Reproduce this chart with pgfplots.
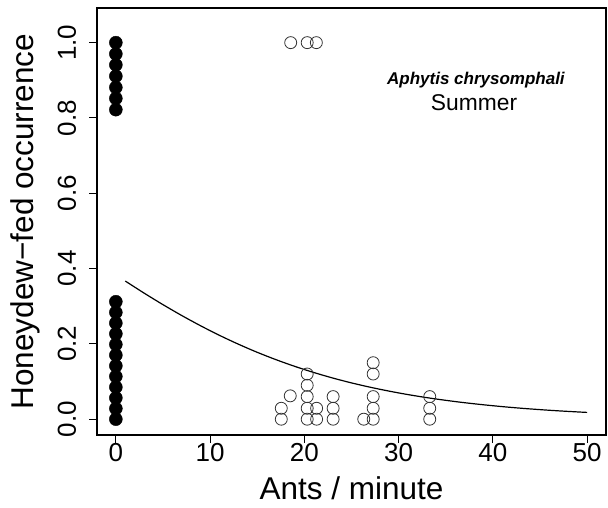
\documentclass[border=0pt]{standalone}
\usepackage{pgfplots}
\pgfplotsset{compat=1.18}
\usepackage{fontspec}
\setmainfont{Liberation Sans}
\begin{document}
\begin{tikzpicture}
\begin{axis}[
  scale only axis, width=509pt, height=427pt,
  xmin=-2, xmax=52, ymin=-0.042, ymax=1.092,
  xtick={0,10,20,30,40,50}, ytick={0,0.2,0.4,0.6,0.8,1},
  xtick pos=left, ytick pos=left,
  tick align=outside, major tick length=8pt,
  tick style={line width=1pt, black},
  axis line style={line width=1.2pt},
  /pgf/number format/assume math mode=true,
  ticklabel style={font=\fontsize{26}{26}\selectfont, inner sep=0pt},
  yticklabel style={/pgf/number format/fixed, /pgf/number format/fixed zerofill, /pgf/number format/precision=1, rotate=90, anchor=base},
  yticklabel shift=13pt,
  xticklabel style={anchor=north},
  xlabel={Ants / minute},
  ylabel={Honeydew−fed occurrence},
  label style={font=\fontsize{31.5}{31.5}\selectfont, inner sep=0pt},
  xlabel style={at={(axis description cs:0.5,-0.1500)}, anchor=base},
  ylabel style={at={(axis description cs:-0.1257,0.5)}, anchor=base, rotate=0},
]
% fitted curve
\addplot[black, line width=1.2pt, no marks, smooth] coordinates {
(1,0.3669)(3,0.3348)(5,0.3042)(7,0.2752)(9,0.2480)(11,0.2226)(13,0.1992)(15,0.1776)
(17,0.1580)(19,0.1401)(21,0.1240)(23,0.1094)(25,0.0964)(27,0.0848)(29,0.0745)
(31,0.0653)(33,0.0572)(35,0.0501)(37,0.0438)(39,0.0383)(41,0.0334)(43,0.0291)
(45,0.0254)(47,0.0221)(49,0.0193)(50,0.0180)};
% filled points at 0 ants
\addplot[only marks, mark=*, mark size=6.5pt, mark options={fill=black, draw=black}] coordinates {
(0,0)(0,0.0284)(0,0.0567)(0,0.0851)(0,0.1135)(0,0.1418)(0,0.1702)(0,0.1985)
(0,0.2269)(0,0.2553)(0,0.2836)(0,0.312)
(0,1.0)(0,0.970)(0,0.941)(0,0.911)(0,0.881)(0,0.852)(0,0.822)};
% open points
\addplot[only marks, mark=o, mark size=6pt, mark options={draw=black!80, line width=0.8pt}] coordinates {
(17.55,0)(17.55,0.029)(18.5,0.062)
(20.3,0)(20.3,0.029)(20.3,0.06)(20.3,0.09)(20.3,0.12)
(21.3,0)(21.3,0.029)
(23.05,0)(23.05,0.029)(23.05,0.06)
(26.3,0)
(27.3,0)(27.3,0.029)(27.3,0.06)(27.3,0.12)(27.3,0.15)
(33.3,0)(33.3,0.029)(33.3,0.06)
(18.55,1)(20.3,1)(21.27,1)};
\node[anchor=base, inner sep=0pt, font=\fontsize{17}{17}\selectfont\bfseries\itshape] at (axis cs:38.2,0.889) {Aphytis chrysomphali};
\node[anchor=base, inner sep=0pt, font=\fontsize{22.8}{22.8}\selectfont] at (axis cs:38.0,0.82) {Summer};
\end{axis}
\path ([xshift=-97pt,yshift=-72pt]current axis.south west) rectangle ([xshift=2pt,yshift=8pt]current axis.north east);
\end{tikzpicture}
\end{document}
